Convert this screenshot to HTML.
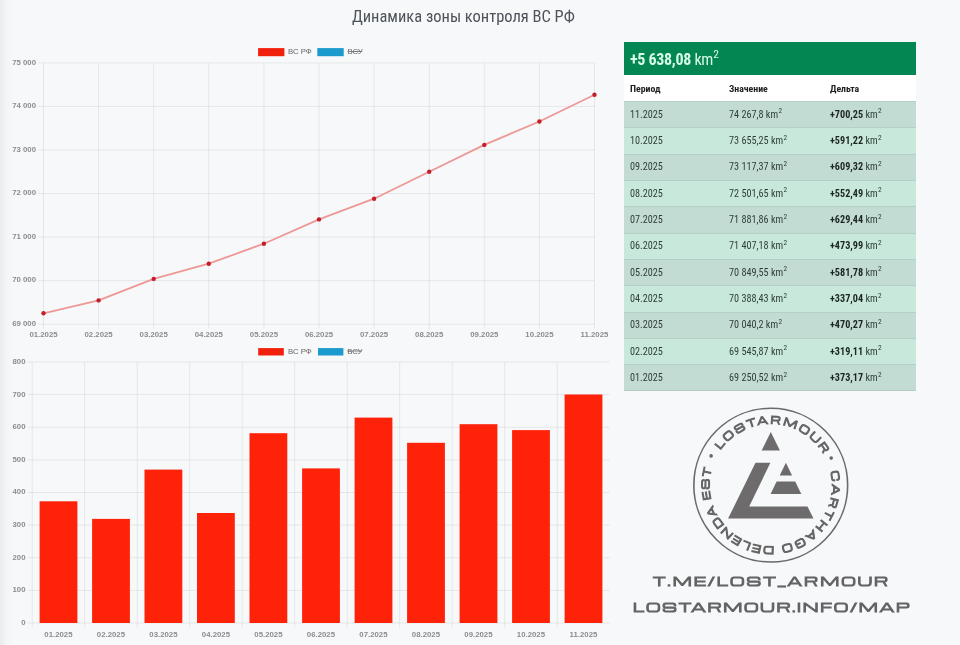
<!DOCTYPE html>
<html lang="ru">
<head>
<meta charset="utf-8">
<title>Динамика зоны контроля ВС РФ</title>
<style>
html,body{margin:0;padding:0}
body{width:960px;height:645px;position:relative;overflow:hidden;background:#f7f8fa;font-family:"Liberation Sans",Arial,sans-serif}
.edge{position:absolute;left:0;top:0;width:14px;height:645px;background:linear-gradient(to right,#eaebed 0px,#eff0f2 3px,#f4f5f7 7px,#f7f8fa 14px)}
svg.main{position:absolute;left:0;top:0;will-change:transform}
.tbl{position:absolute;left:624px;top:42px;width:292px;will-change:transform;font-family:"Roboto Condensed","Liberation Sans",sans-serif}
.hd{height:33px;background:#038651;color:#d8fbe7;font-size:16px;line-height:35.6px;padding-left:6px;white-space:nowrap;letter-spacing:-0.3px}
.hd b{font-weight:700}
.hd sup,.r sup{font-size:72%;line-height:0;vertical-align:0;position:relative;top:-0.62em;margin-left:0.3px}
.r{position:relative;height:26.33px;line-height:26.33px;font-size:10.2px;font-weight:400;color:#2f3f38;white-space:nowrap}
.r span{position:absolute;top:0.8px}
.r .c1{left:6px}.r .c2{left:105px}.r .c3{left:206px}
.r.h{background:#fff;font-weight:700;color:#202020;font-size:9.8px;height:26px;line-height:26px}
.r.h span{top:0.5px}
.r.o{background:#c3dcd3;box-shadow:inset 0 1px 0 #b4cfc5}
.r.e{background:#c8e8dc;box-shadow:inset 0 1px 0 #b4cfc5}
.r.last{box-shadow:inset 0 1px 0 #b4cfc5,inset 0 -1px 0 #b2cac2}
.r .c3 b{color:#1d2622;font-weight:700}
</style>
</head>
<body>
<div class="edge"></div>

<svg class="main" width="960" height="645" viewBox="0 0 960 645">
  <!-- ===== LINE CHART ===== -->
  <g stroke="#000" stroke-opacity="0.07" stroke-width="1" fill="none">
    <path d="M38 62.9H594.5M38 106.45H594.5M38 150H594.5M38 193.55H594.5M38 237.1H594.5M38 280.65H594.5M38 324.2H594.5"/>
    <path d="M43.5 62.9V328.7M98.6 62.9V328.7M153.7 62.9V328.7M208.8 62.9V328.7M263.9 62.9V328.7M319 62.9V328.7M374.1 62.9V328.7M429.2 62.9V328.7M484.3 62.9V328.7M539.4 62.9V328.7M594.5 62.9V328.7"/>
  </g>
  <g font-family="Liberation Sans, Arial, sans-serif" font-size="7.8" font-weight="700" fill="#8c8c8c" text-anchor="end">
    <text x="36" y="64.5">75 000</text>
    <text x="36" y="108.0">74 000</text>
    <text x="36" y="151.6">73 000</text>
    <text x="36" y="195.1">72 000</text>
    <text x="36" y="238.7">71 000</text>
    <text x="36" y="282.2">70 000</text>
    <text x="36" y="325.8">69 000</text>
  </g>
  <g font-family="Liberation Sans, Arial, sans-serif" font-size="7.8" font-weight="700" fill="#8c8c8c" text-anchor="middle">
    <text x="43.5" y="337.1">01.2025</text>
    <text x="98.6" y="337.1">02.2025</text>
    <text x="153.7" y="337.1">03.2025</text>
    <text x="208.8" y="337.1">04.2025</text>
    <text x="263.9" y="337.1">05.2025</text>
    <text x="319" y="337.1">06.2025</text>
    <text x="374.1" y="337.1">07.2025</text>
    <text x="429.2" y="337.1">08.2025</text>
    <text x="484.3" y="337.1">09.2025</text>
    <text x="539.4" y="337.1">10.2025</text>
    <text x="594.5" y="337.1">11.2025</text>
  </g>
  <polyline fill="none" stroke="#ee9896" stroke-width="1.8" stroke-linejoin="round" points="43.5,313.3 98.6,300.4 153.7,278.9 208.8,263.7 263.9,243.7 319.0,219.4 374.1,198.7 429.2,171.7 484.3,144.9 539.4,121.5 594.5,94.8"/>
  <g fill="#c21f2b">
    <circle cx="43.5" cy="313.3" r="2.2"/><circle cx="98.6" cy="300.4" r="2.2"/><circle cx="153.7" cy="278.9" r="2.2"/><circle cx="208.8" cy="263.7" r="2.2"/><circle cx="263.9" cy="243.7" r="2.2"/><circle cx="319.0" cy="219.4" r="2.2"/><circle cx="374.1" cy="198.7" r="2.2"/><circle cx="429.2" cy="171.7" r="2.2"/><circle cx="484.3" cy="144.9" r="2.2"/><circle cx="539.4" cy="121.5" r="2.2"/><circle cx="594.5" cy="94.8" r="2.2"/>
  </g>
  <!-- legend 1 -->
  <rect x="258.1" y="48.1" width="26.3" height="8.1" fill="#f0200c"/>
  <text x="288" y="54.1" font-family="Liberation Sans, Arial, sans-serif" font-size="7.8" fill="#666">ВС РФ</text>
  <rect x="317.3" y="48.1" width="26.4" height="8.1" fill="#1a9acd"/>
  <text x="347.5" y="54.1" font-family="Liberation Sans, Arial, sans-serif" font-size="7.8" fill="#666">ВСУ</text>
  <path d="M347.5 51.5H362.3" stroke="#7a7a7a" stroke-width="1"/>

  <!-- ===== BAR CHART ===== -->
  <g stroke="#000" stroke-opacity="0.07" stroke-width="1" fill="none">
    <path d="M27.7 362H609.7M27.7 394.6H609.7M27.7 427.25H609.7M27.7 459.9H609.7M27.7 492.5H609.7M27.7 525.1H609.7M27.7 557.75H609.7M27.7 590.4H609.7M27.7 623H609.7"/>
    <path d="M32.2 362V627.5M84.7 362V627.5M137.2 362V627.5M189.7 362V627.5M242.2 362V627.5M294.7 362V627.5M347.2 362V627.5M399.7 362V627.5M452.2 362V627.5M504.7 362V627.5M557.2 362V627.5"/>
  </g>
  <g font-family="Liberation Sans, Arial, sans-serif" font-size="7.8" font-weight="700" fill="#8c8c8c" text-anchor="end">
    <text x="25.5" y="363.9">800</text>
    <text x="25.5" y="396.5">700</text>
    <text x="25.5" y="429.1">600</text>
    <text x="25.5" y="461.8">500</text>
    <text x="25.5" y="494.4">400</text>
    <text x="25.5" y="527.0">300</text>
    <text x="25.5" y="559.6">200</text>
    <text x="25.5" y="592.3">100</text>
    <text x="25.5" y="624.9">0</text>
  </g>
  <g font-family="Liberation Sans, Arial, sans-serif" font-size="7.8" font-weight="700" fill="#8c8c8c" text-anchor="middle">
    <text x="58.45" y="636.7">01.2025</text>
    <text x="110.95" y="636.7">02.2025</text>
    <text x="163.45" y="636.7">03.2025</text>
    <text x="215.95" y="636.7">04.2025</text>
    <text x="268.45" y="636.7">05.2025</text>
    <text x="320.95" y="636.7">06.2025</text>
    <text x="373.45" y="636.7">07.2025</text>
    <text x="425.95" y="636.7">08.2025</text>
    <text x="478.45" y="636.7">09.2025</text>
    <text x="530.95" y="636.7">10.2025</text>
    <text x="583.45" y="636.7">11.2025</text>
  </g>
  <g fill="#fe2208">
    <rect x="39.6" y="501.3" width="37.8" height="121.7"/>
    <rect x="92.1" y="518.9" width="37.8" height="104.1"/>
    <rect x="144.5" y="469.6" width="37.8" height="153.4"/>
    <rect x="197.0" y="513.0" width="37.8" height="110.0"/>
    <rect x="249.5" y="433.2" width="37.8" height="189.8"/>
    <rect x="302.1" y="468.4" width="37.8" height="154.6"/>
    <rect x="354.6" y="417.6" width="37.8" height="205.4"/>
    <rect x="407.1" y="442.8" width="37.8" height="180.2"/>
    <rect x="459.6" y="424.2" width="37.8" height="198.8"/>
    <rect x="512.1" y="430.1" width="37.8" height="192.9"/>
    <rect x="564.6" y="394.5" width="37.8" height="228.5"/>
  </g>
  <!-- legend 2 -->
  <rect x="258.2" y="348.1" width="25.6" height="7.4" fill="#f0200c"/>
  <text x="288" y="353.7" font-family="Liberation Sans, Arial, sans-serif" font-size="7.8" fill="#666">ВС РФ</text>
  <rect x="318" y="348.1" width="25.4" height="7.4" fill="#1a9acd"/>
  <text x="347.3" y="353.7" font-family="Liberation Sans, Arial, sans-serif" font-size="7.8" fill="#666">ВСУ</text>
  <path d="M347.3 351H362" stroke="#7a7a7a" stroke-width="1"/>

  <!-- ===== LOGO ===== -->
  <circle cx="770.75" cy="485.15" r="76.9" fill="none" stroke="#6a6a6a" stroke-width="1.6"/>
  <defs>
    <path id="cb" d="M770.75 546.45A61.3 61.3 0 1 1 770.75 423.85A61.3 61.3 0 1 1 770.75 546.45"/>
    <path id="ct" d="M770.75 423.85A61.3 61.3 0 1 1 770.75 546.45A61.3 61.3 0 1 1 770.75 423.85"/>
  </defs>
  <g font-family="Michroma, Liberation Sans, sans-serif" font-size="10.1" fill="#666" stroke="#666" stroke-width="1.2">
    <text><textPath href="#cb" startOffset="50.6%" text-anchor="middle" textLength="122.5" lengthAdjust="spacing">LOSTARMOUR</textPath></text>
    <text><textPath href="#ct" startOffset="34.319%" text-anchor="middle" textLength="99.6" lengthAdjust="spacing">CARTHAGO</textPath></text>
    <text><textPath href="#ct" startOffset="59.403%" text-anchor="middle" textLength="79.0" lengthAdjust="spacing">DELENDA</textPath></text>
    <text><textPath href="#ct" startOffset="75.347%" text-anchor="middle" textLength="31.5" lengthAdjust="spacing">EST</textPath></text>
  </g>
  <circle cx="711.1" cy="455.9" r="1.8" fill="#666"/>
  <circle cx="831.2" cy="458.1" r="1.8" fill="#666"/>
  <g fill="#6d6b6b">
    <polygon points="770.8,432 761.6,450.6 779.9,450.6"/>
    <polygon points="755.5,462.7 770.4,462.7 749.2,506.6 807.5,506.6 813.5,518.6 728.1,518.6"/>
    <polygon points="785.9,462.8 779.7,475.4 792.1,475.4"/>
    <polygon points="776.6,481.6 795.2,481.6 801.3,494 770.6,494"/>
  </g>
  <!-- ===== TITLE ===== -->
  <text x="463.4" y="21.6" text-anchor="middle" textLength="223" lengthAdjust="spacingAndGlyphs" font-family="Roboto Condensed, Liberation Sans, sans-serif" font-size="16.45" fill="#4d5359">Динамика зоны контроля ВС РФ</text>
  <!-- ===== LINKS ===== -->
  <g font-family="Michroma, Liberation Sans, sans-serif" font-size="12.4" fill="#646464" stroke="#646464" stroke-width="1.15" text-anchor="middle" transform="translate(770.8 0) scale(1.12 1)">
    <text x="-0.3" y="586.1" textLength="210.4" lengthAdjust="spacing">T.ME/LOST_ARMOUR</text>
    <text x="0.3" y="612.1" textLength="246.9" lengthAdjust="spacing">LOSTARMOUR.INFO/MAP</text>
  </g>
</svg>

<div class="tbl">
  <div class="hd"><b>+5 638,08</b> km<sup>2</sup></div>
  <div class="r h"><span class="c1">Период</span><span class="c2">Значение</span><span class="c3">Дельта</span></div>
  <div class="r o"><span class="c1">11.2025</span><span class="c2">74 267,8 km<sup>2</sup></span><span class="c3"><b>+700,25</b> km<sup>2</sup></span></div>
  <div class="r e"><span class="c1">10.2025</span><span class="c2">73 655,25 km<sup>2</sup></span><span class="c3"><b>+591,22</b> km<sup>2</sup></span></div>
  <div class="r o"><span class="c1">09.2025</span><span class="c2">73 117,37 km<sup>2</sup></span><span class="c3"><b>+609,32</b> km<sup>2</sup></span></div>
  <div class="r e"><span class="c1">08.2025</span><span class="c2">72 501,65 km<sup>2</sup></span><span class="c3"><b>+552,49</b> km<sup>2</sup></span></div>
  <div class="r o"><span class="c1">07.2025</span><span class="c2">71 881,86 km<sup>2</sup></span><span class="c3"><b>+629,44</b> km<sup>2</sup></span></div>
  <div class="r e"><span class="c1">06.2025</span><span class="c2">71 407,18 km<sup>2</sup></span><span class="c3"><b>+473,99</b> km<sup>2</sup></span></div>
  <div class="r o"><span class="c1">05.2025</span><span class="c2">70 849,55 km<sup>2</sup></span><span class="c3"><b>+581,78</b> km<sup>2</sup></span></div>
  <div class="r e"><span class="c1">04.2025</span><span class="c2">70 388,43 km<sup>2</sup></span><span class="c3"><b>+337,04</b> km<sup>2</sup></span></div>
  <div class="r o"><span class="c1">03.2025</span><span class="c2">70 040,2 km<sup>2</sup></span><span class="c3"><b>+470,27</b> km<sup>2</sup></span></div>
  <div class="r e"><span class="c1">02.2025</span><span class="c2">69 545,87 km<sup>2</sup></span><span class="c3"><b>+319,11</b> km<sup>2</sup></span></div>
  <div class="r o last"><span class="c1">01.2025</span><span class="c2">69 250,52 km<sup>2</sup></span><span class="c3"><b>+373,17</b> km<sup>2</sup></span></div>
</div>

</body>
</html>
